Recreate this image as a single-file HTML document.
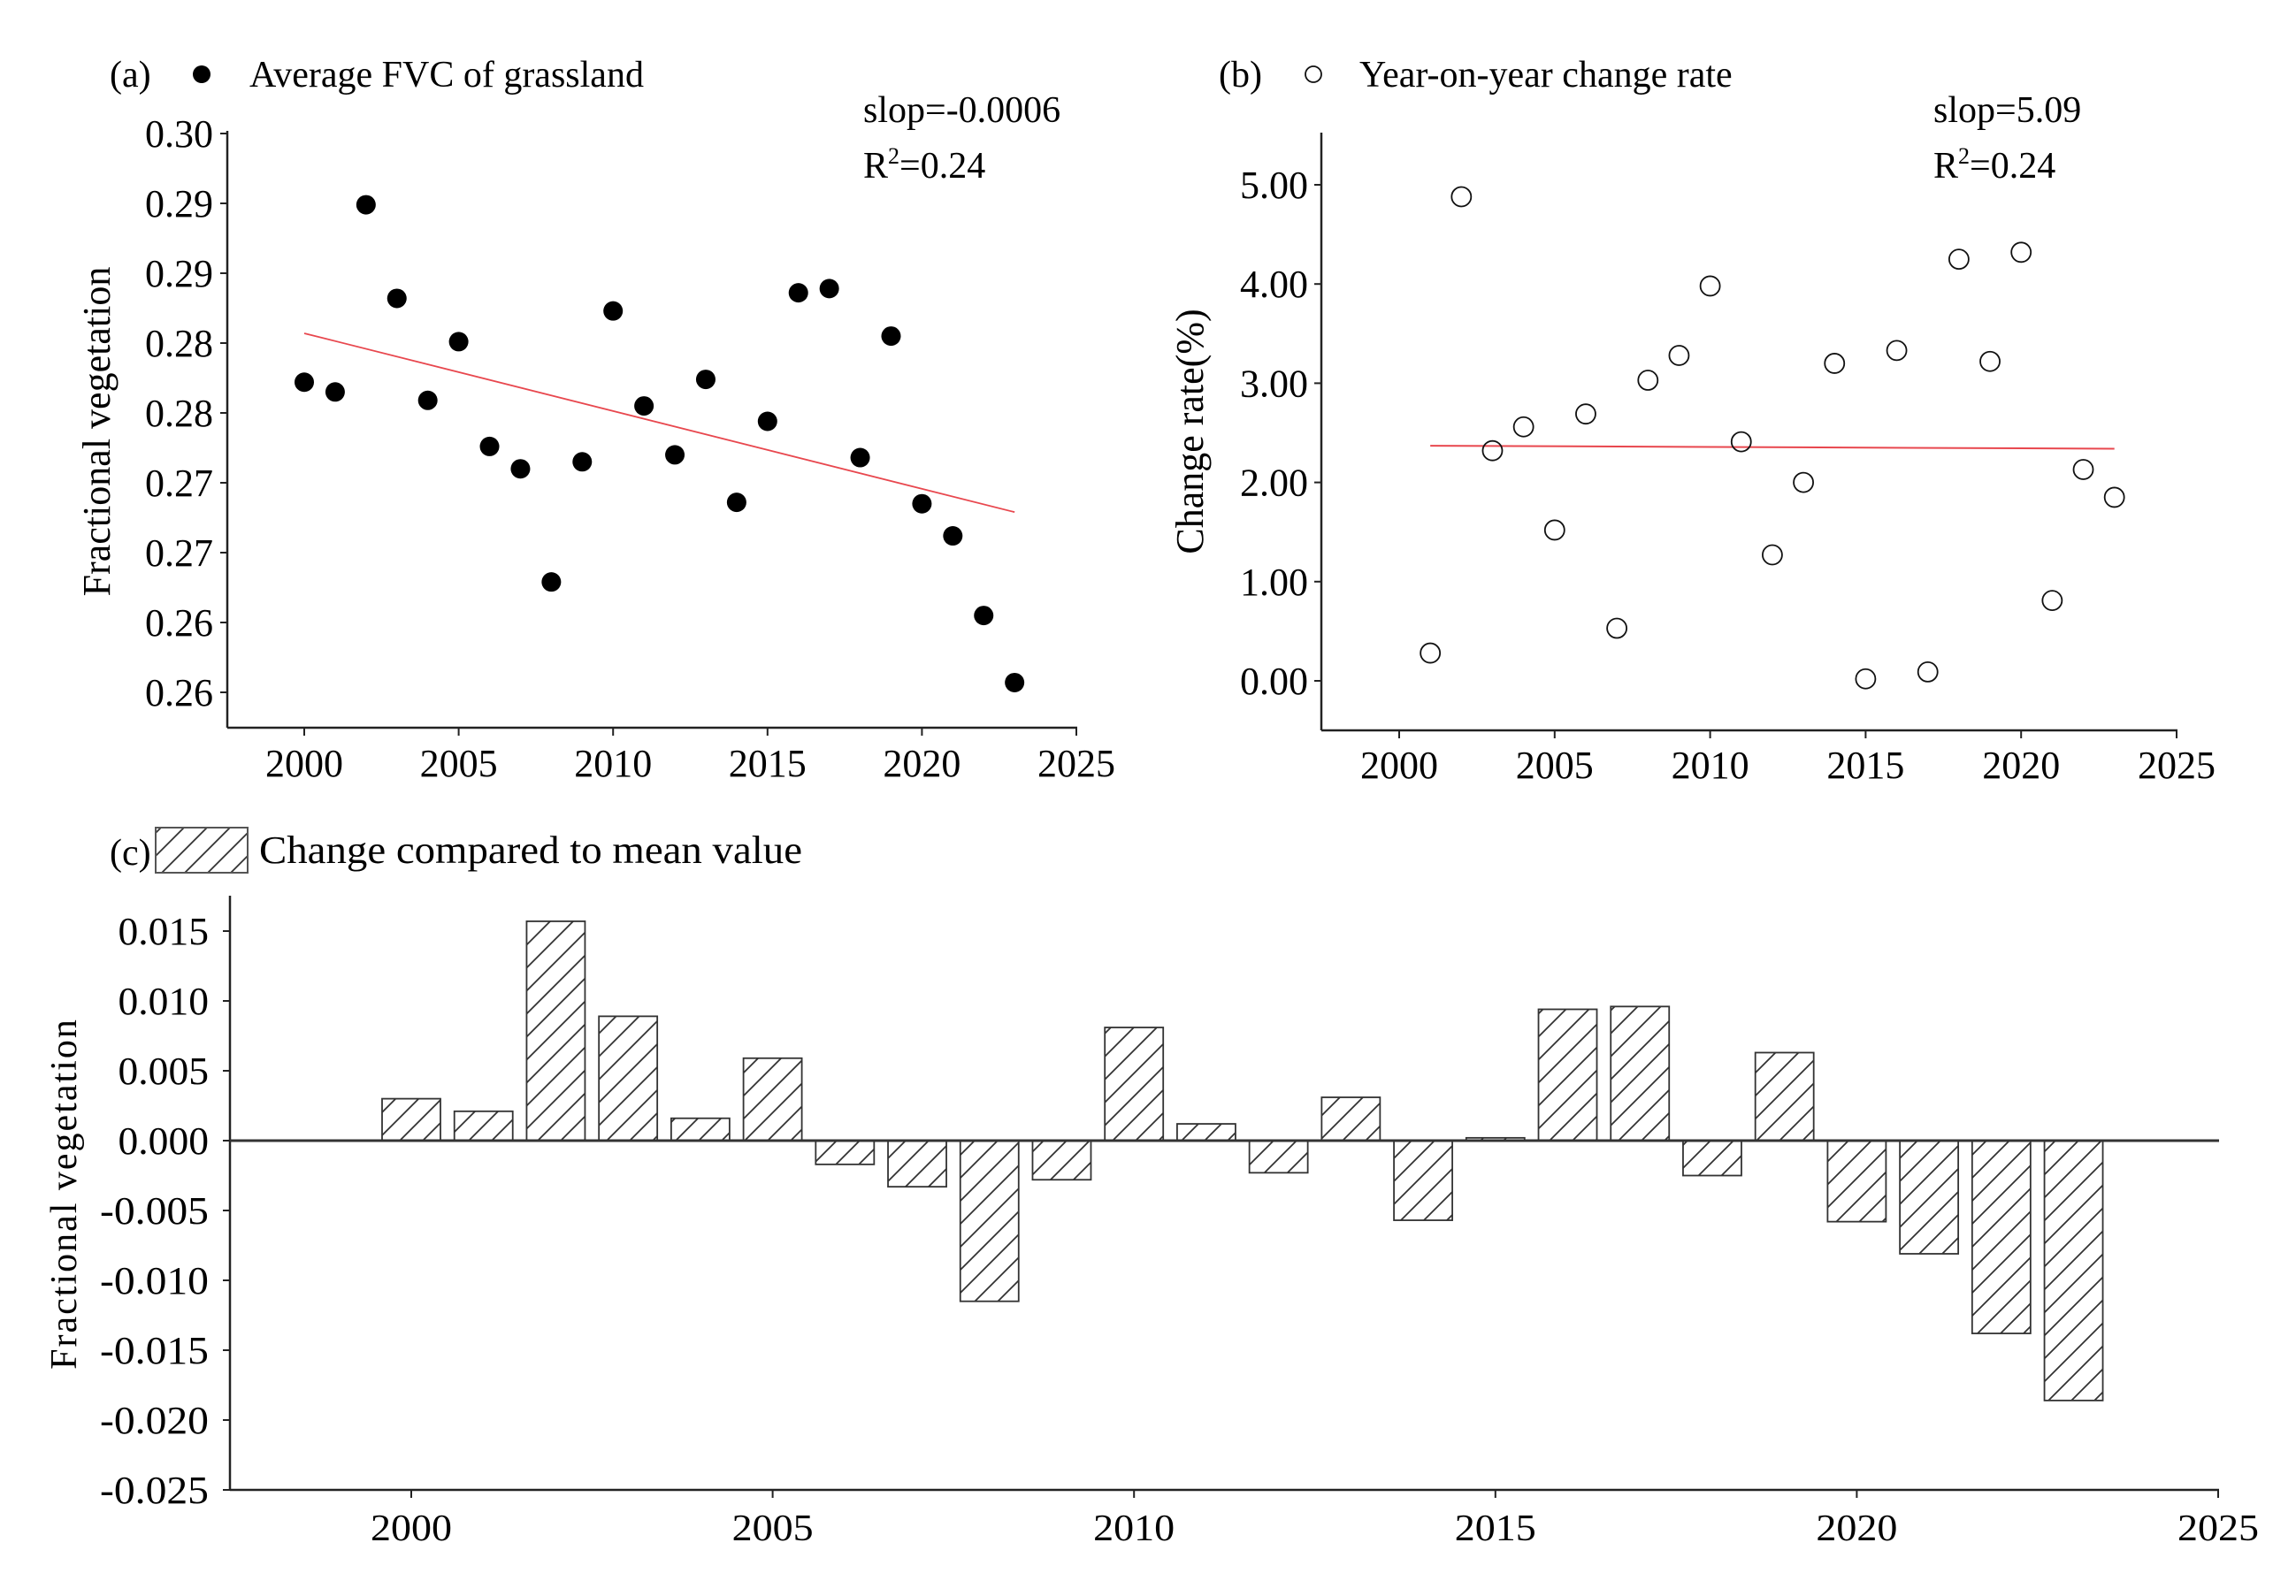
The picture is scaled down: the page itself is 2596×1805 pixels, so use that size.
<!DOCTYPE html>
<html><head><meta charset="utf-8"><style>
html,body{margin:0;padding:0;background:#fff;}
svg{display:block;font-family:"Liberation Serif",serif;}
</style></head><body>
<svg id="chart" width="2596" height="1805" viewBox="0 0 2596 1805" xmlns="http://www.w3.org/2000/svg">
<defs>
<pattern id="hatch" patternUnits="userSpaceOnUse" width="26" height="26">
<path d="M-6,32 L32,-6 M-19,19 L19,-19 M7,45 L45,7" stroke="#333" stroke-width="1.8"/>
</pattern>
</defs>
<g id="pa"></g>
<g id="pb"></g>
<g id="pc"></g>
</svg>
<script>
const years = [2000,2001,2002,2003,2004,2005,2006,2007,2008,2009,2010,2011,2012,2013,2014,2015,2016,2017,2018,2019,2020,2021,2022,2023];
const fvc = [0.2822,0.2815,0.2949,0.2882,0.2809,0.2851,0.2776,0.2760,0.2679,0.2765,0.2873,0.2805,0.2770,0.2824,0.2736,0.2794,0.2886,0.2889,0.2768,0.2855,0.2735,0.2712,0.2655,0.2607];
const fvcTrendYears = [2000,2023];
const fvcTrendValues = [0.2857,0.2729];
const aYTicks = [0.300,0.295,0.290,0.285,0.280,0.275,0.270,0.265,0.260];
const aYLabels = ["0.30","0.29","0.29","0.28","0.28","0.27","0.27","0.26","0.26"];
const xTicks = [2000,2005,2010,2015,2020,2025];
const rateYears = [2001,2002,2003,2004,2005,2006,2007,2008,2009,2010,2011,2012,2013,2014,2015,2016,2017,2018,2019,2020,2021,2022,2023];
const rate = [0.28,4.88,2.32,2.56,1.52,2.69,0.53,3.03,3.28,3.98,2.41,1.27,2.00,3.20,0.02,3.33,0.09,4.25,3.22,4.32,0.81,2.13,1.85];
const rateTrendYears = [2001,2023];
const rateTrendValues = [2.37,2.34];
const bYTicks = [0,1,2,3,4,5];
const bYLabels = ["0.00","1.00","2.00","3.00","4.00","5.00"];
const anomaly = [0.0030,0.0021,0.0157,0.0089,0.0016,0.0059,-0.0017,-0.0033,-0.0115,-0.0028,0.0081,0.0012,-0.0023,0.0031,-0.0057,0.0002,0.0094,0.0096,-0.0025,0.0063,-0.0058,-0.0081,-0.0138,-0.0186];
const cYTicks = [0.015,0.010,0.005,0.000,-0.005,-0.010,-0.015,-0.020,-0.025];
const cYLabels = ["0.015","0.010","0.005","0.000","-0.005","-0.010","-0.015","-0.020","-0.025"];

const NS="http://www.w3.org/2000/svg";
function mk(parent,tag,attrs,text){const e=document.createElementNS(NS,tag);for(const k in attrs)e.setAttribute(k,attrs[k]);if(text!==undefined)e.textContent=text;parent.appendChild(e);return e;}
function lin(d0,d1,r0,r1){return v=>r0+(v-d0)*(r1-r0)/(d1-d0);}

// Panel A
const pa=document.getElementById('pa');
const ax=lin(2000,2025,344,1217), ay=lin(0.30,0.26,151,783);
let e;
e=mk(pa,'line',{x1:257,y1:148,x2:257,y2:823,stroke:'#222','stroke-width':2.5});

e=mk(pa,'line',{x1:257,y1:823,x2:1218,y2:823,stroke:'#222','stroke-width':2.5});

aYTicks.forEach((t,i)=>{const y=ay(t);
 e=mk(pa,'line',{x1:249,y1:y,x2:257,y2:y,stroke:'#222','stroke-width':2});
 
 e=mk(pa,'text',{x:241,y:y+15,'font-size':44,'text-anchor':'end'},aYLabels[i]);
 });
xTicks.forEach(t=>{const x=ax(t);
 e=mk(pa,'line',{x1:x,y1:823,x2:x,y2:832,stroke:'#222','stroke-width':2});
 
 e=mk(pa,'text',{x:x,y:878,'font-size':44,'text-anchor':'middle'},String(t));
 });
e=mk(pa,'text',{x:0,y:0,'font-size':44,'text-anchor':'middle',transform:'translate(124,488) rotate(-90)'},'Fractional vegetation');

e=mk(pa,'line',{x1:ax(fvcTrendYears[0]),y1:ay(fvcTrendValues[0]),x2:ax(fvcTrendYears[1]),y2:ay(fvcTrendValues[1]),stroke:'#e8474e','stroke-width':1.8});

years.forEach((yr,i)=>{
 e=mk(pa,'circle',{cx:ax(yr),cy:ay(fvc[i]),r:11,fill:'#000'});
 });
e=mk(pa,'text',{x:124,y:98,'font-size':42},'(a)');

e=mk(pa,'circle',{cx:228,cy:84,r:10,fill:'#000'});

e=mk(pa,'text',{x:282,y:98,'font-size':42},'Average FVC of grassland');

e=mk(pa,'text',{x:976,y:138,'font-size':42},'slop=-0.0006');

e=mk(pa,'text',{x:976,y:201,'font-size':42},'R');

mk(e,'tspan',{dy:-16,'font-size':26},'2');mk(e,'tspan',{dy:16},'=0.24');

// Panel B
const pb=document.getElementById('pb');
const bx=lin(2000,2025,1582,2461), by=lin(0,5,770,209);
e=mk(pb,'line',{x1:1494,y1:150,x2:1494,y2:826,stroke:'#222','stroke-width':2.5});

e=mk(pb,'line',{x1:1494,y1:826,x2:2462,y2:826,stroke:'#222','stroke-width':2.5});

bYTicks.forEach((t,i)=>{const y=by(t);
 e=mk(pb,'line',{x1:1486,y1:y,x2:1494,y2:y,stroke:'#222','stroke-width':2});
 
 e=mk(pb,'text',{x:1479,y:y+15,'font-size':44,'text-anchor':'end'},bYLabels[i]);
 });
xTicks.forEach(t=>{const x=bx(t);
 e=mk(pb,'line',{x1:x,y1:826,x2:x,y2:835,stroke:'#222','stroke-width':2});
 
 e=mk(pb,'text',{x:x,y:880,'font-size':44,'text-anchor':'middle'},String(t));
 });
e=mk(pb,'text',{x:0,y:0,'font-size':44,'text-anchor':'middle',transform:'translate(1360,488) rotate(-90)'},'Change rate(%)');

e=mk(pb,'line',{x1:bx(rateTrendYears[0]),y1:by(rateTrendValues[0]),x2:bx(rateTrendYears[1]),y2:by(rateTrendValues[1]),stroke:'#e8474e','stroke-width':2});

rateYears.forEach((yr,i)=>{
 e=mk(pb,'circle',{cx:bx(yr),cy:by(rate[i]),r:11,fill:'none',stroke:'#111','stroke-width':1.8});
 });
e=mk(pb,'text',{x:1378,y:98,'font-size':42},'(b)');

e=mk(pb,'circle',{cx:1485,cy:84,r:9,fill:'none',stroke:'#111','stroke-width':1.8});

e=mk(pb,'text',{x:1537,y:98,'font-size':42},'Year-on-year change rate');

e=mk(pb,'text',{x:2186,y:138,'font-size':42},'slop=5.09');

e=mk(pb,'text',{x:2186,y:201,'font-size':42},'R');

mk(e,'tspan',{dy:-16,'font-size':26},'2');mk(e,'tspan',{dy:16},'=0.24');

// Panel C
const pc=document.getElementById('pc');
const cx=lin(2000,2025,465,2508), cy=lin(0.015,-0.025,1053,1685);
e=mk(pc,'line',{x1:260,y1:1013,x2:260,y2:1685,stroke:'#222','stroke-width':2.5});

e=mk(pc,'line',{x1:260,y1:1685,x2:2509,y2:1685,stroke:'#222','stroke-width':2.5});

cYTicks.forEach((t,i)=>{const y=cy(t);
 e=mk(pc,'line',{x1:252,y1:y,x2:260,y2:y,stroke:'#222','stroke-width':2});
 
 const lbl=cYLabels[i];
 e=mk(pc,'text',{x:236,y:y+15,'font-size':44,'text-anchor':'end',textLength:lbl.length*20.5,lengthAdjust:'spacingAndGlyphs'},lbl);
 });
xTicks.forEach(t=>{const x=cx(t);
 e=mk(pc,'line',{x1:x,y1:1685,x2:x,y2:1694,stroke:'#222','stroke-width':2});
 
 e=mk(pc,'text',{x:x,y:1742,'font-size':42,'text-anchor':'middle',textLength:92,lengthAdjust:'spacingAndGlyphs'},String(t));
 });
e=mk(pc,'text',{x:0,y:0,'font-size':42,'text-anchor':'middle','letter-spacing':2,transform:'translate(86,1350) rotate(-90)'},'Fractional vegetation');

const bw=66;
years.forEach((yr,i)=>{const v=anomaly[i];const y0=cy(0),y1=cy(v);
 e=mk(pc,'rect',{x:cx(yr)-bw/2,y:Math.min(y0,y1),width:bw,height:Math.max(1,Math.abs(y1-y0)),fill:'url(#hatch)',stroke:'#333','stroke-width':1.8});
 });
e=mk(pc,'line',{x1:260,y1:cy(0),x2:2509,y2:cy(0),stroke:'#333','stroke-width':3});

e=mk(pc,'text',{x:124,y:978,'font-size':42},'(c)');

e=mk(pc,'rect',{x:176,y:936,width:104,height:51,fill:'url(#hatch)',stroke:'#555','stroke-width':2});

e=mk(pc,'text',{x:293,y:976,'font-size':44,textLength:614,lengthAdjust:'spacingAndGlyphs'},'Change compared to mean value');

</script>
</body></html>
